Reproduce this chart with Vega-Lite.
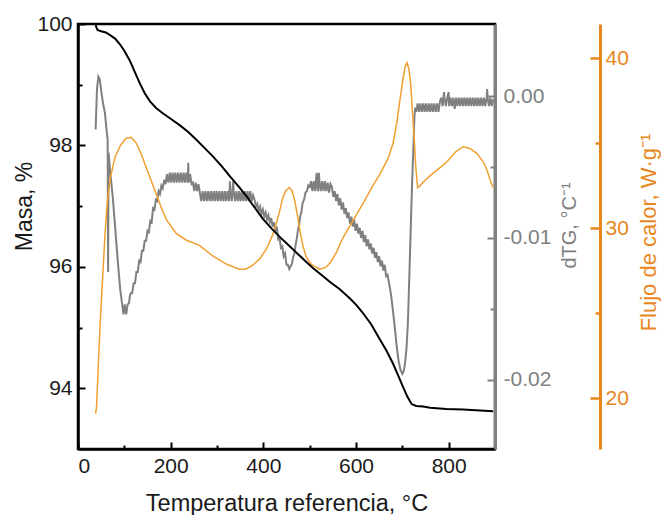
{
  "$schema": "https://vega.github.io/schema/vega-lite/v6.json",
  "width": 417,
  "height": 425,
  "autosize": {"type": "none"},
  "padding": {"left": 78, "top": 24, "right": 166, "bottom": 66},
  "background": "white",
  "config": {
    "font": "Liberation Sans",
    "view": {"stroke": "black", "strokeWidth": 2.5},
    "axis": {"grid": false, "labelFontSize": 21, "titleFontSize": 23, "titleFontWeight": "normal", "labelFont": "Liberation Sans", "titleFont": "Liberation Sans"}
  },
  "datasets": {
    "masa": [
      {"T": 38, "v": 99.98}, {"T": 42, "v": 99.9}, {"T": 50, "v": 99.88}, {"T": 60, "v": 99.86}, {"T": 68.5, "v": 99.82}, {"T": 80, "v": 99.76}, {"T": 90, "v": 99.67},
      {"T": 100, "v": 99.56}, {"T": 111.7, "v": 99.4}, {"T": 122, "v": 99.22}, {"T": 133, "v": 99.03}, {"T": 144, "v": 98.86}, {"T": 155, "v": 98.73}, {"T": 168, "v": 98.62}, {"T": 183, "v": 98.53}, {"T": 200, "v": 98.44}, {"T": 220, "v": 98.33},
      {"T": 238, "v": 98.22}, {"T": 256, "v": 98.09}, {"T": 273, "v": 97.96}, {"T": 291, "v": 97.82}, {"T": 310, "v": 97.66}, {"T": 328, "v": 97.49}, {"T": 346, "v": 97.33}, {"T": 364, "v": 97.16}, {"T": 382, "v": 96.97}, {"T": 399, "v": 96.79},
      {"T": 418, "v": 96.63}, {"T": 436, "v": 96.49}, {"T": 454, "v": 96.36}, {"T": 472, "v": 96.23}, {"T": 490, "v": 96.1}, {"T": 507, "v": 95.98}, {"T": 525, "v": 95.87}, {"T": 544, "v": 95.75}, {"T": 565, "v": 95.63}, {"T": 587, "v": 95.48},
      {"T": 601, "v": 95.37}, {"T": 615, "v": 95.24}, {"T": 633, "v": 95.05}, {"T": 651, "v": 94.81}, {"T": 665, "v": 94.63}, {"T": 679, "v": 94.42}, {"T": 690, "v": 94.23}, {"T": 701, "v": 94.03}, {"T": 711, "v": 93.86}, {"T": 720, "v": 93.74},
      {"T": 730, "v": 93.71}, {"T": 745, "v": 93.7}, {"T": 760, "v": 93.68}, {"T": 795, "v": 93.66}, {"T": 831, "v": 93.65}, {"T": 896, "v": 93.62}
    ],
    "dtg": [
      {"T": 38, "v": -0.00235}, {"T": 41, "v": 0.0005}, {"T": 44, "v": 0.00139}, {"T": 47, "v": 0.0012}, {"T": 50, "v": 0.0004},
      {"T": 54, "v": -0.0005}, {"T": 58, "v": -0.00115}, {"T": 62, "v": -0.0025}, {"T": 64, "v": -0.0031}, {"T": 65, "v": -0.0124},
      {"T": 66, "v": -0.004}, {"T": 70, "v": -0.0055}, {"T": 75, "v": -0.0071}, {"T": 80, "v": -0.0092}, {"T": 86, "v": -0.0117},
      {"T": 91, "v": -0.0136}, {"T": 95, "v": -0.0146}, {"T": 98, "v": -0.0154}, {"T": 101, "v": -0.0147}, {"T": 104, "v": -0.0154},
      {"T": 107, "v": -0.0147}, {"T": 110, "v": -0.0146}, {"T": 112, "v": -0.0141},
      {"T": 114, "v": -0.0139}, {"T": 117, "v": -0.0139}, {"T": 120, "v": -0.0132}, {"T": 123, "v": -0.0132}, {"T": 126, "v": -0.0124},
      {"T": 129, "v": -0.0124}, {"T": 132, "v": -0.0116}, {"T": 135, "v": -0.0117}, {"T": 138, "v": -0.0109}, {"T": 141, "v": -0.0109},
      {"T": 144, "v": -0.0102}, {"T": 147, "v": -0.0102}, {"T": 150, "v": -0.0095}, {"T": 153, "v": -0.0096}, {"T": 156, "v": -0.0088},
      {"T": 159, "v": -0.0089}, {"T": 162, "v": -0.0079}, {"T": 165, "v": -0.008}, {"T": 168, "v": -0.0073}, {"T": 171, "v": -0.0074},
      {"T": 174, "v": -0.0067}, {"T": 177, "v": -0.0069}, {"T": 180, "v": -0.0063}, {"T": 183, "v": -0.0065}, {"T": 186, "v": -0.0059},
      {"T": 189, "v": -0.0062},
      {"T": 192, "v": -0.0055}, {"T": 195, "v": -0.0061}, {"T": 198, "v": -0.0054}, {"T": 201, "v": -0.0061}, {"T": 204, "v": -0.0054},
      {"T": 207, "v": -0.0061}, {"T": 210, "v": -0.0054}, {"T": 213, "v": -0.0061}, {"T": 216, "v": -0.0054}, {"T": 219, "v": -0.0061},
      {"T": 222, "v": -0.0054}, {"T": 225, "v": -0.0061}, {"T": 228, "v": -0.0054}, {"T": 231, "v": -0.0061}, {"T": 234, "v": -0.0054},
      {"T": 237, "v": -0.0061}, {"T": 238, "v": -0.0047}, {"T": 239, "v": -0.0061}, {"T": 242, "v": -0.0055}, {"T": 245, "v": -0.0062},
      {"T": 248, "v": -0.0061}, {"T": 251, "v": -0.0067}, {"T": 254, "v": -0.0061}, {"T": 257, "v": -0.0067}, {"T": 260, "v": -0.0062},
      {"T": 263, "v": -0.0068},
      {"T": 266, "v": -0.0074}, {"T": 269, "v": -0.0067}, {"T": 272, "v": -0.0074}, {"T": 275, "v": -0.0067}, {"T": 278, "v": -0.0074},
      {"T": 281, "v": -0.0067}, {"T": 284, "v": -0.0074}, {"T": 287, "v": -0.0067}, {"T": 290, "v": -0.0074}, {"T": 293, "v": -0.0067},
      {"T": 296, "v": -0.0074}, {"T": 299, "v": -0.0067}, {"T": 302, "v": -0.0074}, {"T": 305, "v": -0.0067}, {"T": 308, "v": -0.0074},
      {"T": 311, "v": -0.0067}, {"T": 314, "v": -0.0074}, {"T": 317, "v": -0.0067}, {"T": 320, "v": -0.0074}, {"T": 323, "v": -0.0067},
      {"T": 326, "v": -0.0074}, {"T": 328, "v": -0.006}, {"T": 329, "v": -0.0067}, {"T": 332, "v": -0.0074}, {"T": 335, "v": -0.006},
      {"T": 336, "v": -0.0067}, {"T": 339, "v": -0.0074}, {"T": 342, "v": -0.0067}, {"T": 345, "v": -0.0074}, {"T": 348, "v": -0.0067},
      {"T": 351, "v": -0.0074}, {"T": 354, "v": -0.0067}, {"T": 357, "v": -0.0074}, {"T": 360, "v": -0.0067}, {"T": 363, "v": -0.0074},
      {"T": 366, "v": -0.0067}, {"T": 369, "v": -0.0074}, {"T": 372, "v": -0.0067}, {"T": 375, "v": -0.0074}, {"T": 378, "v": -0.007},
      {"T": 381, "v": -0.0073}, {"T": 384, "v": -0.0078}, {"T": 387, "v": -0.0076}, {"T": 390, "v": -0.0081}, {"T": 393, "v": -0.0078},
      {"T": 396, "v": -0.0083}, {"T": 399, "v": -0.008}, {"T": 402, "v": -0.0085}, {"T": 405, "v": -0.0082}, {"T": 408, "v": -0.0087},
      {"T": 411, "v": -0.0084}, {"T": 414, "v": -0.0089}, {"T": 417, "v": -0.0086}, {"T": 420, "v": -0.0092}, {"T": 423, "v": -0.0089},
      {"T": 426, "v": -0.0095}, {"T": 429, "v": -0.0092}, {"T": 432, "v": -0.0101}, {"T": 435, "v": -0.01}, {"T": 438, "v": -0.0107},
      {"T": 441, "v": -0.0106}, {"T": 444, "v": -0.0113}, {"T": 447, "v": -0.0111}, {"T": 450, "v": -0.0119}, {"T": 453, "v": -0.0119},
      {"T": 456, "v": -0.0122}, {"T": 459, "v": -0.012},
      {"T": 462, "v": -0.0118}, {"T": 464, "v": -0.0114}, {"T": 467, "v": -0.0111}, {"T": 470, "v": -0.0104}, {"T": 472, "v": -0.0101},
      {"T": 475, "v": -0.0094}, {"T": 477, "v": -0.0091}, {"T": 480, "v": -0.0084}, {"T": 482, "v": -0.0082}, {"T": 485, "v": -0.0075},
      {"T": 488, "v": -0.0073}, {"T": 491, "v": -0.0068}, {"T": 494, "v": -0.0067}, {"T": 497, "v": -0.0063}, {"T": 500, "v": -0.0064},
      {"T": 503, "v": -0.006}, {"T": 506, "v": -0.0067}, {"T": 509, "v": -0.006}, {"T": 512, "v": -0.0067}, {"T": 515, "v": -0.0054},
      {"T": 516, "v": -0.006}, {"T": 518, "v": -0.0067}, {"T": 520, "v": -0.0054}, {"T": 521, "v": -0.006}, {"T": 524, "v": -0.0067},
      {"T": 527, "v": -0.006}, {"T": 530, "v": -0.0067}, {"T": 533, "v": -0.006}, {"T": 536, "v": -0.0067}, {"T": 539, "v": -0.0061},
      {"T": 542, "v": -0.0068}, {"T": 545, "v": -0.0062},
      {"T": 548, "v": -0.0064}, {"T": 551, "v": -0.0071}, {"T": 554, "v": -0.0067}, {"T": 557, "v": -0.0074}, {"T": 560, "v": -0.0069},
      {"T": 563, "v": -0.0077}, {"T": 566, "v": -0.0072}, {"T": 569, "v": -0.008}, {"T": 572, "v": -0.0075}, {"T": 575, "v": -0.0083},
      {"T": 578, "v": -0.0079}, {"T": 581, "v": -0.0086}, {"T": 584, "v": -0.0082}, {"T": 587, "v": -0.009}, {"T": 590, "v": -0.0085},
      {"T": 593, "v": -0.0092}, {"T": 596, "v": -0.0087}, {"T": 599, "v": -0.0095}, {"T": 602, "v": -0.009}, {"T": 605, "v": -0.0097},
      {"T": 608, "v": -0.0093}, {"T": 611, "v": -0.01}, {"T": 614, "v": -0.0095}, {"T": 617, "v": -0.0103}, {"T": 620, "v": -0.0098},
      {"T": 623, "v": -0.0106}, {"T": 626, "v": -0.0101}, {"T": 629, "v": -0.0108}, {"T": 632, "v": -0.0104}, {"T": 635, "v": -0.0111},
      {"T": 638, "v": -0.0107}, {"T": 641, "v": -0.0114}, {"T": 644, "v": -0.011}, {"T": 647, "v": -0.0117}, {"T": 650, "v": -0.0113},
      {"T": 653, "v": -0.012}, {"T": 656, "v": -0.0116}, {"T": 659, "v": -0.0123}, {"T": 662, "v": -0.0119}, {"T": 665, "v": -0.0127},
      {"T": 668, "v": -0.0126},
      {"T": 672, "v": -0.0133}, {"T": 676, "v": -0.0141}, {"T": 680, "v": -0.0152}, {"T": 684, "v": -0.0164}, {"T": 688, "v": -0.0177},
      {"T": 692, "v": -0.0187}, {"T": 696, "v": -0.0193}, {"T": 700, "v": -0.0196}, {"T": 703, "v": -0.0194}, {"T": 706, "v": -0.0188},
      {"T": 709, "v": -0.0178}, {"T": 712, "v": -0.016}, {"T": 715, "v": -0.0128}, {"T": 718, "v": -0.0095}, {"T": 721, "v": -0.0062},
      {"T": 724, "v": -0.0035}, {"T": 726, "v": -0.0015}, {"T": 728, "v": -0.0008},
      {"T": 730, "v": -0.0011}, {"T": 733, "v": -0.0005}, {"T": 736, "v": -0.0011}, {"T": 739, "v": -0.0005}, {"T": 742, "v": -0.0011},
      {"T": 745, "v": -0.0005}, {"T": 748, "v": -0.0011}, {"T": 751, "v": -0.0005}, {"T": 754, "v": -0.0011}, {"T": 757, "v": -0.0005},
      {"T": 760, "v": -0.0011}, {"T": 763, "v": -0.0005}, {"T": 766, "v": -0.0011}, {"T": 769, "v": -0.0005}, {"T": 772, "v": -0.0011},
      {"T": 775, "v": -0.0005}, {"T": 778, "v": -0.0011}, {"T": 781, "v": -0.0004},
      {"T": 784, "v": -0.0001}, {"T": 787, "v": -0.0007}, {"T": 790, "v": 0.0003}, {"T": 791, "v": -0.0001}, {"T": 794, "v": -0.0007},
      {"T": 797, "v": -0.0001}, {"T": 800, "v": 0.0003}, {"T": 801, "v": -0.0007}, {"T": 804, "v": -0.0001}, {"T": 807, "v": -0.0007},
      {"T": 810, "v": -0.0001}, {"T": 813, "v": -0.0009}, {"T": 816, "v": -0.0001}, {"T": 819, "v": -0.0007}, {"T": 822, "v": -0.0001},
      {"T": 825, "v": -0.0007}, {"T": 828, "v": -0.0001}, {"T": 831, "v": -0.0007}, {"T": 834, "v": -0.0001}, {"T": 837, "v": -0.0007},
      {"T": 840, "v": -0.0001}, {"T": 843, "v": -0.0007}, {"T": 846, "v": -0.0001}, {"T": 849, "v": -0.0007}, {"T": 852, "v": -0.0001},
      {"T": 855, "v": -0.0007}, {"T": 858, "v": -0.0001}, {"T": 861, "v": -0.0007}, {"T": 864, "v": -0.0001}, {"T": 867, "v": -0.0007},
      {"T": 870, "v": -0.0001}, {"T": 873, "v": -0.0007}, {"T": 876, "v": -0.0001}, {"T": 879, "v": -0.0007}, {"T": 882, "v": -0.0001},
      {"T": 883, "v": 0.0005}, {"T": 884, "v": -0.0001}, {"T": 887, "v": -0.0007}, {"T": 890, "v": -0.0001}, {"T": 893, "v": -0.0007},
      {"T": 896, "v": -0.0002}
    ],
    "flujo": [
      {"T": 38, "v": 19.1}, {"T": 40, "v": 19.5}, {"T": 44, "v": 22.0}, {"T": 48, "v": 24.5}, {"T": 53, "v": 27.0},
      {"T": 58, "v": 29.5}, {"T": 63, "v": 31.5}, {"T": 70, "v": 33.0}, {"T": 80, "v": 34.2}, {"T": 92, "v": 34.9},
      {"T": 104, "v": 35.3}, {"T": 115, "v": 35.35}, {"T": 126, "v": 35.0}, {"T": 136, "v": 34.4}, {"T": 147, "v": 33.6},
      {"T": 158, "v": 32.8}, {"T": 169, "v": 32.0}, {"T": 180, "v": 31.2}, {"T": 191, "v": 30.5}, {"T": 212, "v": 29.7},
      {"T": 234, "v": 29.3}, {"T": 262, "v": 29.0}, {"T": 290, "v": 28.4}, {"T": 320, "v": 27.9}, {"T": 348, "v": 27.6},
      {"T": 362, "v": 27.6}, {"T": 376, "v": 27.8}, {"T": 392, "v": 28.2}, {"T": 407, "v": 28.8}, {"T": 420, "v": 29.6},
      {"T": 428, "v": 30.3}, {"T": 436, "v": 31.1}, {"T": 441, "v": 31.7}, {"T": 448, "v": 32.2}, {"T": 456, "v": 32.4},
      {"T": 462, "v": 32.2}, {"T": 468, "v": 31.6}, {"T": 474, "v": 30.7}, {"T": 480, "v": 29.7}, {"T": 486, "v": 28.9},
      {"T": 493, "v": 28.3}, {"T": 503, "v": 27.9}, {"T": 521, "v": 27.6}, {"T": 535, "v": 27.7}, {"T": 545, "v": 28.0},
      {"T": 558, "v": 28.6}, {"T": 571, "v": 29.4}, {"T": 586, "v": 30.1}, {"T": 601, "v": 30.8}, {"T": 618, "v": 31.6},
      {"T": 636, "v": 32.5}, {"T": 652, "v": 33.2}, {"T": 669, "v": 34.1}, {"T": 680, "v": 35.0}, {"T": 688, "v": 36.2},
      {"T": 695, "v": 37.6}, {"T": 701, "v": 38.7}, {"T": 706, "v": 39.5}, {"T": 710, "v": 39.75}, {"T": 714, "v": 39.4},
      {"T": 718, "v": 38.5}, {"T": 722, "v": 36.8}, {"T": 726, "v": 35.1}, {"T": 729, "v": 33.6}, {"T": 733, "v": 32.4},
      {"T": 738, "v": 32.5}, {"T": 748, "v": 32.8}, {"T": 760, "v": 33.1}, {"T": 778, "v": 33.5}, {"T": 796, "v": 33.9},
      {"T": 815, "v": 34.5}, {"T": 831, "v": 34.8}, {"T": 846, "v": 34.7}, {"T": 861, "v": 34.4}, {"T": 875, "v": 33.9},
      {"T": 883, "v": 33.4}, {"T": 890, "v": 32.8}, {"T": 896, "v": 32.4}
    ]
  },
  "encoding": {
    "x": {
      "field": "T", "type": "quantitative",
      "scale": {"domain": [0, 900], "nice": false, "zero": false},
      "axis": {
        "title": "Temperatura referencia, °C",
        "values": [0, 100, 200, 300, 400, 500, 600, 700, 800],
        "labelExpr": "datum.value % 200 === 0 ? datum.label : ''",
        "tickSize": {"condition": {"test": "datum.value % 200 === 0", "value": -7}, "value": -4},
        "domainColor": "black", "domainWidth": 2.5, "tickColor": "black", "tickWidth": 2,
        "labelColor": "#1a1a1a", "titleColor": "#1a1a1a", "titleFontSize": 23.5,
        "labelPadding": 13, "titlePadding": 15
      }
    }
  },
  "layer": [
    {
      "data": {"name": "dtg"},
      "mark": {"type": "line", "color": "#808080", "strokeWidth": 2},
      "encoding": {
        "y": {
          "field": "v", "type": "quantitative",
          "scale": {"domain": [-0.0249, 0.0051], "nice": false, "zero": false},
          "axis": {
            "orient": "right",
            "title": "dTG, °C⁻¹",
            "titleAngle": 270, "titleBaseline": "top", "titleY": 201,
            "values": [-0.02, -0.015, -0.01, -0.005, 0],
            "labelExpr": "abs(datum.value*100 - round(datum.value*100)) < 0.000001 ? replace(format(datum.value, '.2f'), '−', '-') : ''",
            "tickSize": {"condition": {"test": "abs(datum.value*100 - round(datum.value*100)) < 0.000001", "value": -8}, "value": -5},
            "domainColor": "#808080", "domainWidth": 3, "tickColor": "#808080", "tickWidth": 2,
            "labelColor": "#808080", "titleColor": "#808080", "titleFontSize": 20,
            "labelPadding": 16, "titlePadding": 9
          }
        }
      }
    },
    {
      "data": {"name": "flujo"},
      "mark": {"type": "line", "color": "#F0A030", "strokeWidth": 1.5},
      "encoding": {
        "y": {
          "field": "v", "type": "quantitative",
          "scale": {"domain": [17.02, 42.02], "nice": false, "zero": false},
          "axis": {
            "orient": "right", "offset": 105,
            "title": "Flujo de calor, W·g⁻¹",
            "titleAngle": 270, "titleBaseline": "top", "titleY": 208,
            "values": [20, 25, 30, 35, 40],
            "labelExpr": "datum.value % 10 === 0 ? datum.label : ''",
            "tickSize": {"condition": {"test": "datum.value % 10 === 0", "value": -10}, "value": -5},
            "domainColor": "#E8871E", "domainWidth": 3, "tickColor": "#E8871E", "tickWidth": 2.5,
            "labelColor": "#E8871E", "titleColor": "#E8871E", "titleFontSize": 22,
            "labelPadding": 15, "titlePadding": 10
          }
        }
      }
    },
    {
      "data": {"name": "masa"},
      "mark": {"type": "line", "color": "black", "strokeWidth": 2},
      "encoding": {
        "y": {
          "field": "v", "type": "quantitative",
          "scale": {"domain": [93, 100], "nice": false, "zero": false},
          "axis": {
            "orient": "left",
            "title": "Masa, %",
            "titleY": 182,
            "values": [94, 95, 96, 97, 98, 99, 100],
            "labelExpr": "datum.value % 2 === 0 ? datum.label : ''",
            "tickSize": {"condition": {"test": "datum.value % 2 === 0", "value": -7}, "value": -4},
            "domainColor": "black", "domainWidth": 2.5, "tickColor": "black", "tickWidth": 2,
            "labelColor": "#1a1a1a", "titleColor": "#1a1a1a",
            "labelPadding": 13, "titlePadding": 0
          }
        }
      }
    }
  ],
  "resolve": {"scale": {"y": "independent"}}
}
